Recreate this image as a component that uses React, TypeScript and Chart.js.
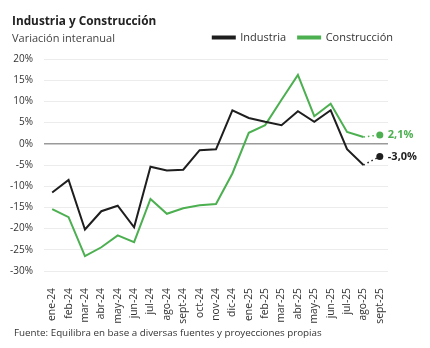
import React, { useEffect, useRef } from "react";
import { Chart, registerables } from "chart.js";

Chart.register(...registerables);

const months = [
  "ene-24", "feb-24", "mar-24", "abr-24", "may-24", "jun-24", "jul-24", "ago-24", "sept-24", "oct-24", "nov-24", "dic-24",
  "ene-25", "feb-25", "mar-25", "abr-25", "may-25", "jun-25", "jul-25", "ago-25", "sept-25",
];

const industria = [
  -11.5, -8.5, -20.2, -15.9, -14.6, -19.7, -5.4, -6.3, -6.1, -1.5, -1.3, 7.9,
  6.1, 5.2, 4.4, 7.7, 5.2, 7.9, -1.25, -5.0, null,
];

const construccion = [
  -15.4, -17.3, -26.5, -24.4, -21.6, -23.2, -13.0, -16.5, -15.2, -14.5, -14.2, -7.0,
  2.6, 4.4, 10.4, 16.25, 6.5, 9.45, 2.8, 1.6, null,
];

const proyeccionIndustria = -3.0;
const proyeccionConstruccion = 2.1;

const yTicks = [20, 15, 10, 5, 0, -5, -10, -15, -20, -25, -30];

const BLACK = "#1e1e1e";
const GREEN = "#4caf50";
const FONT = "'Open Sans', sans-serif";

const lastIdx = months.length - 2;
const projIdx = months.length - 1;

function buildProjection(series: (number | null)[], proj: number) {
  return months.map((_, i) => (i === lastIdx ? series[lastIdx] : i === projIdx ? proj : null));
}

const fmt = (v: number) => v.toFixed(1).replace(".", ",") + "%";

const projLabels = {
  id: "projLabels",
  afterDatasetsDraw(chart: any) {
    const ctx = chart.ctx;
    [2, 3].forEach((di) => {
      const meta = chart.getDatasetMeta(di);
      const ds = chart.data.datasets[di];
      const pt = meta.data[projIdx];
      if (!pt) return;
      const v = ds.data[projIdx] as number;
      ctx.save();
      ctx.font = `bold 11px ${FONT}`;
      ctx.fillStyle = ds.borderColor;
      ctx.textBaseline = "middle";
      ctx.textAlign = "left";
      ctx.fillText(fmt(v), pt.x + 8, pt.y);
      ctx.restore();
    });
  },
};

const legendGap = {
  id: "legendGap",
  beforeInit(chart: any) {
    const legend = chart.legend;
    if (!legend) return;
    const origFit = legend.fit;
    legend.fit = function () {
      origFit.call(this);
      this.height += 6;
    };
  },
};

export default function App() {
  const ref = useRef<HTMLCanvasElement | null>(null);

  useEffect(() => {
    if (!ref.current) return;
    const chart = new Chart(ref.current, {
      type: "line",
      data: {
        labels: months,
        datasets: [
          {
            label: "Industria",
            data: industria,
            borderColor: BLACK,
            backgroundColor: BLACK,
            borderWidth: 2,
            pointRadius: 0,
            tension: 0,
          },
          {
            label: "Construcción",
            data: construccion,
            borderColor: GREEN,
            backgroundColor: GREEN,
            borderWidth: 2,
            pointRadius: 0,
            tension: 0,
          },
          {
            label: "proyInd",
            data: buildProjection(industria, proyeccionIndustria),
            borderColor: BLACK,
            backgroundColor: BLACK,
            borderWidth: 1.5,
            borderDash: [1.5, 3],
            pointRadius: months.map((_, i) => (i === projIdx ? 3.5 : 0)),
            pointBorderWidth: 0,
            tension: 0,
          },
          {
            label: "proyCons",
            data: buildProjection(construccion, proyeccionConstruccion),
            borderColor: GREEN,
            backgroundColor: GREEN,
            borderWidth: 1.5,
            borderDash: [1.5, 3],
            pointRadius: months.map((_, i) => (i === projIdx ? 3.5 : 0)),
            pointBorderWidth: 0,
            tension: 0,
          },
        ],
      },
      options: {
        responsive: false,
        animation: false,
        maintainAspectRatio: false,
        layout: { padding: { top: 20, right: 25, bottom: 0, left: 0 } },
        plugins: {
          tooltip: { enabled: false },
          legend: {
            position: "top",
            align: "end",
            labels: {
              boxWidth: 22,
              boxHeight: 2,
              padding: 12,
              color: "#333",
              font: { family: FONT, size: 11 },
              filter: (item: any) => item.datasetIndex < 2,
            },
          },
        },
        scales: {
          x: {
            offset: true,
            grid: { display: false },
            border: { display: false },
            afterFit: (s: any) => {
              s.height = 77;
            },
            ticks: {
              autoSkip: false,
              maxRotation: 90,
              minRotation: 90,
              padding: 9,
              color: "#333",
              font: { family: FONT, size: 10.3 },
            },
          },
          y: {
            min: -30,
            max: 20,
            afterFit: (s: any) => {
              s.width = 44;
            },
            afterBuildTicks: (s: any) => {
              s.ticks = yTicks.map((v) => ({ value: v }));
            },
            border: { display: false },
            grid: {
              drawTicks: false,
              color: (c: any) => (c.tick && c.tick.value === 0 ? "#9a9a9a" : "#ececec"),
              lineWidth: (c: any) => (c.tick && c.tick.value === 0 ? 1.5 : 1),
            },
            ticks: {
              padding: 11,
              color: "#333",
              font: { family: FONT, size: 10 },
              callback: (v: any) => `${v}%`,
            },
          },
          y2: {
            position: "right",
            display: true,
            grid: { display: false },
            border: { display: false },
            ticks: { display: false },
            afterFit: (s: any) => {
              s.width = 17;
            },
          },
        },
      },
      plugins: [projLabels, legendGap],
    });
    return () => chart.destroy();
  }, []);

  return (
    <div style={{ position: "fixed", left: 0, top: 0, width: 430, height: 348, background: "#fff", fontFamily: FONT }}>
      <canvas ref={ref} width={430} height={348} style={{ position: "absolute", left: 0, top: 0 }} />
      <div style={{ position: "absolute", left: 12, top: 12, fontSize: 11.8, fontWeight: 700, color: "#222" }}>
        Industria y Construcción
      </div>
      <div style={{ position: "absolute", left: 12, top: 30, fontSize: 11, color: "#444" }}>
        Variación interanual
      </div>
      <div style={{ position: "absolute", left: 14, top: 326, fontSize: 9.8, color: "#333" }}>
        Fuente: Equilibra en base a diversas fuentes y proyecciones propias
      </div>
    </div>
  );
}
